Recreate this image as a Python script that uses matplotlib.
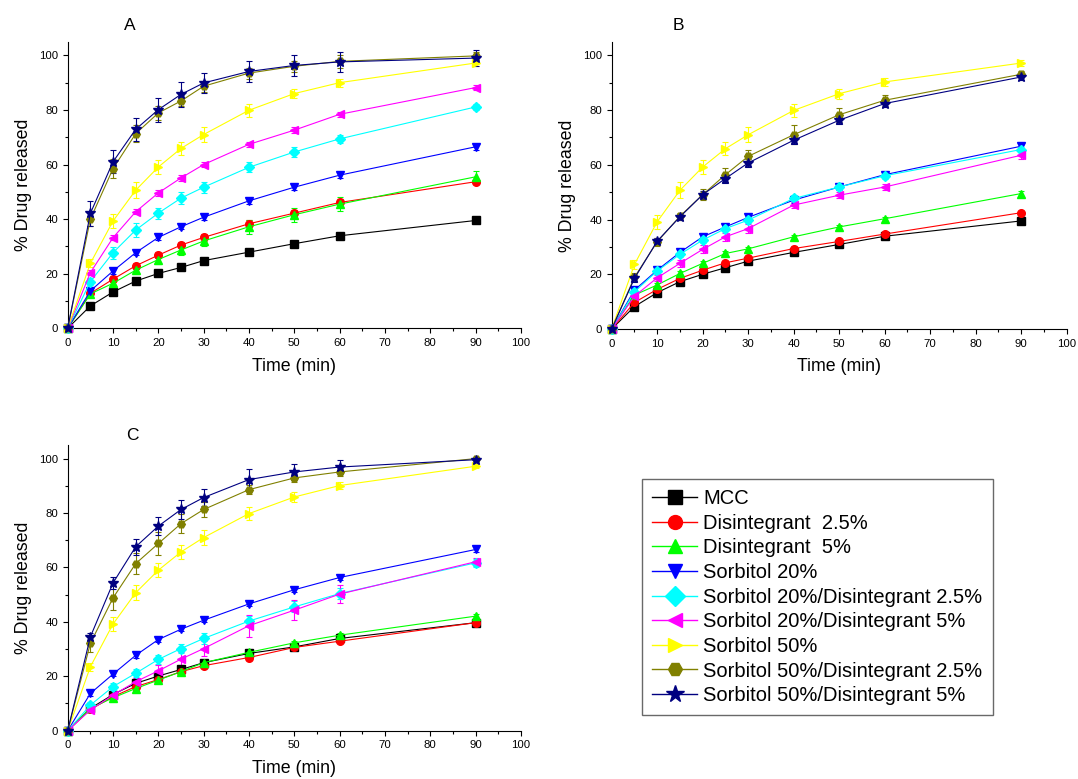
import numpy as np
import matplotlib
matplotlib.use('Agg')
from matplotlib import pyplot as plt
from matplotlib.lines import Line2D

plt.rcParams['font.family'] = ['Liberation Sans', 'DejaVu Sans']

time = [0, 5, 10, 15, 20, 25, 30, 40, 50, 60, 90]

labels = ['MCC', 'Disintegrant  2.5%', 'Disintegrant  5%', 'Sorbitol 20%',
          'Sorbitol 20%/Disintegrant 2.5%', 'Sorbitol 20%/Disintegrant 5%',
          'Sorbitol 50%', 'Sorbitol 50%/Disintegrant 2.5%', 'Sorbitol 50%/Disintegrant 5%']
colors = ['#000000', '#FF0000', '#00FF00', '#0000FF', '#00FFFF', '#FF00FF',
          '#FFFF00', '#808000', '#000080']
markers = ['s', 'o', '^', 'v', 'D', '<', '>', 'H', '*']

# panel A
a_mcc = [0, 8.2, 13.3, 17.3, 20.1, 22.3, 24.8, 27.9, 31.0, 33.9, 39.5]
a_d25 = [0, 12.8, 18.0, 22.9, 26.8, 30.5, 33.3, 38.3, 42.2, 46.1, 53.7]
a_d5 = [0, 12.6, 16.5, 21.3, 25.2, 28.7, 32.0, 37.2, 41.6, 45.5, 55.5]
a_s20 = [0, 13.7, 21.0, 27.7, 33.3, 37.2, 40.7, 46.7, 51.7, 56.1, 66.5]
a_s20d25 = [0, 17.1, 27.7, 36.0, 42.2, 47.7, 51.7, 59.0, 64.6, 69.4, 81.1]
a_s20d5 = [0, 20.4, 33.2, 42.7, 49.6, 55.1, 60.0, 67.4, 72.6, 78.4, 88.2]
a_s50 = [0, 23.8, 39.3, 50.6, 59.1, 65.9, 71.0, 79.9, 86.0, 90.0, 97.2]
a_s50d25 = [0, 40.0, 58.5, 71.3, 78.9, 83.3, 88.7, 93.5, 96.0, 97.8, 99.8]
a_s50d5 = [0, 42.1, 61.0, 72.9, 80.1, 85.7, 89.9, 94.1, 96.3, 97.6, 99.0]

a_err = [
    [0, 0.5, 0.6, 0.6, 0.6, 0.6, 0.6, 0.6, 0.6, 0.6, 0.6],
    [0, 0.8, 1.0, 1.0, 1.2, 1.2, 1.2, 1.2, 1.0, 1.2, 1.0],
    [0, 1.0, 1.5, 1.5, 1.5, 2.0, 2.0, 2.5, 2.5, 2.5, 2.0],
    [0, 0.8, 1.0, 1.0, 1.0, 1.0, 1.0, 1.0, 1.0, 1.0, 1.0],
    [0, 1.2, 2.2, 2.5, 2.0, 2.2, 2.0, 1.8, 1.8, 1.5, 1.0],
    [0, 0.8, 1.0, 1.0, 1.0, 1.0, 1.0, 1.0, 1.0, 1.0, 1.0],
    [0, 1.5, 2.5, 3.0, 2.7, 2.4, 2.8, 2.4, 1.8, 1.5, 1.0],
    [0, 2.5, 3.6, 3.0, 2.7, 2.0, 2.0, 2.0, 2.0, 2.5, 1.5],
    [0, 4.5, 4.2, 4.2, 4.4, 4.5, 3.6, 3.8, 3.9, 3.6, 2.8],
]

# panel B
b_mcc = [0, 8.2, 13.3, 17.3, 20.0, 22.4, 24.8, 28.0, 30.9, 33.9, 39.5]
b_d25 = [0, 9.7, 14.5, 18.5, 21.5, 24.2, 25.9, 29.4, 32.0, 34.7, 42.5]
b_d5 = [0, 12.4, 16.1, 20.3, 24.0, 27.6, 29.3, 33.7, 37.3, 40.3, 49.5]
b_s20 = [0, 14.2, 21.5, 28.0, 33.7, 37.3, 40.8, 47.1, 51.9, 56.4, 66.8]
b_s20d25 = [0, 13.6, 21.2, 27.3, 32.5, 36.7, 39.8, 47.7, 51.9, 56.0, 65.6]
b_s20d5 = [0, 12.0, 18.7, 24.0, 29.1, 33.7, 36.7, 45.3, 48.9, 51.9, 63.5]
b_s50 = [0, 23.6, 39.2, 50.7, 59.2, 65.9, 71.0, 79.9, 86.0, 90.3, 97.2]
b_s50d25 = [0, 18.9, 31.9, 41.2, 49.1, 56.4, 63.1, 71.0, 78.3, 83.6, 93.1]
b_s50d5 = [0, 18.5, 32.1, 41.0, 49.1, 55.0, 60.7, 69.0, 76.3, 82.4, 92.1]

b_err = [
    [0, 0.5, 0.6, 0.6, 0.6, 0.6, 0.6, 0.6, 0.6, 0.6, 0.6],
    [0, 0.8, 0.8, 0.8, 0.8, 0.8, 0.8, 0.8, 0.8, 0.8, 0.8],
    [0, 0.8, 0.8, 0.8, 0.8, 0.8, 0.8, 0.8, 0.8, 0.8, 0.8],
    [0, 0.8, 1.0, 1.0, 1.0, 1.0, 1.0, 1.0, 1.0, 1.0, 1.0],
    [0, 0.8, 1.0, 1.0, 1.0, 1.0, 1.0, 1.2, 1.0, 1.0, 1.0],
    [0, 0.8, 1.2, 1.2, 1.5, 1.5, 1.5, 1.2, 1.2, 1.2, 1.2],
    [0, 1.5, 2.5, 3.0, 2.7, 2.4, 2.8, 2.4, 1.8, 1.5, 1.0],
    [0, 1.5, 1.5, 1.2, 2.0, 2.5, 2.5, 3.5, 2.5, 2.0, 1.2],
    [0, 1.2, 1.2, 1.2, 1.5, 1.5, 1.5, 1.5, 1.2, 1.2, 1.0],
]

# panel C
c_mcc = [0, 8.2, 13.3, 17.4, 20.1, 22.5, 25.0, 28.4, 30.8, 33.9, 39.7]
c_d25 = [0, 7.8, 12.5, 16.2, 18.8, 21.7, 23.9, 26.9, 30.6, 32.9, 39.7]
c_d5 = [0, 8.2, 12.1, 15.5, 18.6, 21.7, 25.0, 28.8, 32.3, 35.1, 42.1]
c_s20 = [0, 13.7, 20.8, 27.7, 33.5, 37.3, 40.6, 46.6, 51.8, 56.3, 66.6]
c_s20d25 = [0, 9.4, 16.2, 21.1, 26.2, 30.2, 33.9, 40.3, 45.5, 50.4, 61.7]
c_s20d5 = [0, 7.6, 13.1, 18.0, 22.0, 26.3, 30.2, 38.6, 44.3, 50.2, 62.1]
c_s50 = [0, 23.5, 39.2, 50.7, 59.0, 65.7, 71.0, 79.8, 85.9, 90.1, 97.2]
c_s50d25 = [0, 32.1, 48.8, 61.4, 68.8, 76.1, 81.3, 88.6, 92.9, 95.1, 100.0]
c_s50d5 = [0, 34.5, 54.3, 67.6, 75.2, 81.3, 85.7, 92.3, 95.1, 96.9, 99.6]

c_err = [
    [0, 0.5, 0.6, 0.8, 0.8, 0.8, 0.8, 0.8, 0.8, 0.8, 0.8],
    [0, 0.6, 0.8, 0.8, 0.8, 0.8, 0.8, 0.8, 0.8, 0.8, 0.8],
    [0, 0.6, 0.8, 0.8, 0.8, 0.8, 0.8, 0.8, 0.8, 0.8, 0.8],
    [0, 0.8, 0.8, 0.8, 0.8, 0.8, 0.8, 0.8, 0.8, 0.8, 0.8],
    [0, 1.0, 1.2, 1.5, 1.8, 1.8, 2.0, 2.0, 2.0, 2.0, 1.5],
    [0, 0.8, 1.0, 1.5, 2.0, 2.5, 2.8, 4.1, 3.7, 3.2, 1.5],
    [0, 1.5, 2.5, 2.7, 2.6, 2.5, 2.9, 2.5, 1.8, 1.2, 0.8],
    [0, 3.0, 4.5, 3.9, 4.3, 3.6, 2.7, 1.7, 1.5, 1.5, 0.5],
    [0, 1.5, 2.2, 3.0, 3.4, 3.4, 3.3, 3.7, 3.1, 2.5, 0.5],
]

panels = [
    ([a_mcc, a_d25, a_d5, a_s20, a_s20d25, a_s20d5, a_s50, a_s50d25, a_s50d5], a_err),
    ([b_mcc, b_d25, b_d5, b_s20, b_s20d25, b_s20d5, b_s50, b_s50d25, b_s50d5], b_err),
    ([c_mcc, c_d25, c_d5, c_s20, c_s20d25, c_s20d5, c_s50, c_s50d25, c_s50d5], c_err),
]

W, H = 1078, 779
fig = plt.figure(figsize=(W / 100, H / 100), dpi=100)

# axes boxes in pixels: left, top, right, bottom
boxes = [(67.7, 41.7, 521, 328.3), (611.7, 41.7, 1066.7, 329), (67.7, 445, 521, 730.7)]
letters = ['A', 'B', 'C']
letter_pos = [(130, 25), (678, 26), (132, 435)]

for (series, errs), box, let, lp in zip(panels, boxes, letters, letter_pos):
    l, t, r, b = box
    ax = fig.add_axes([l / W, 1 - b / H, (r - l) / W, (b - t) / H])
    for vals, err, col, mk in zip(series, errs, colors, markers):
        ms = 7.5 if mk == '*' else 5.5
        ax.errorbar(time, vals, yerr=err, color=col, marker=mk, ms=ms, mec=col, mfc=col,
                    lw=0.8, elinewidth=0.8, capsize=2.5, capthick=0.8, clip_on=False, zorder=3)
    ax.set_xlim(0, 100)
    ax.set_ylim(0, 105)
    ax.set_xticks(range(0, 101, 10))
    ax.set_xticks(range(0, 101, 5), minor=True)
    ax.set_yticks(range(0, 101, 20))
    ax.set_yticks(range(0, 101, 10), minor=True)
    ax.spines['top'].set_visible(False)
    ax.spines['right'].set_visible(False)
    ax.tick_params(which='major', direction='out', length=3.5, width=0.8, labelsize=8.2)
    ax.tick_params(which='minor', direction='out', length=2, width=0.8)
    ax.set_xlabel('Time (min)', fontsize=12.8, labelpad=7)
    ax.set_ylabel('% Drug released', fontsize=12.8, labelpad=5)
    fig.text(lp[0] / W, 1 - lp[1] / H, let, fontsize=12.5, ha='center', va='center')

handles = []
for lab, col, mk in zip(labels, colors, markers):
    ms = 13 if mk == '*' else 10
    handles.append(Line2D([0], [0], color=col, marker=mk, ms=ms, mec=col, mfc=col, lw=1))
leg = fig.legend(handles, labels, loc='upper left', bbox_to_anchor=(642 / W, 1 - 479 / H),
                 fontsize=14.5, frameon=True, fancybox=False, edgecolor='#444444',
                 handlelength=2.25, handletextpad=0.3, labelspacing=0.28, borderpad=0.5,
                 borderaxespad=0, markerscale=1)
leg.get_frame().set_linewidth(1.0)

fig.savefig('out.png', dpi=100)
